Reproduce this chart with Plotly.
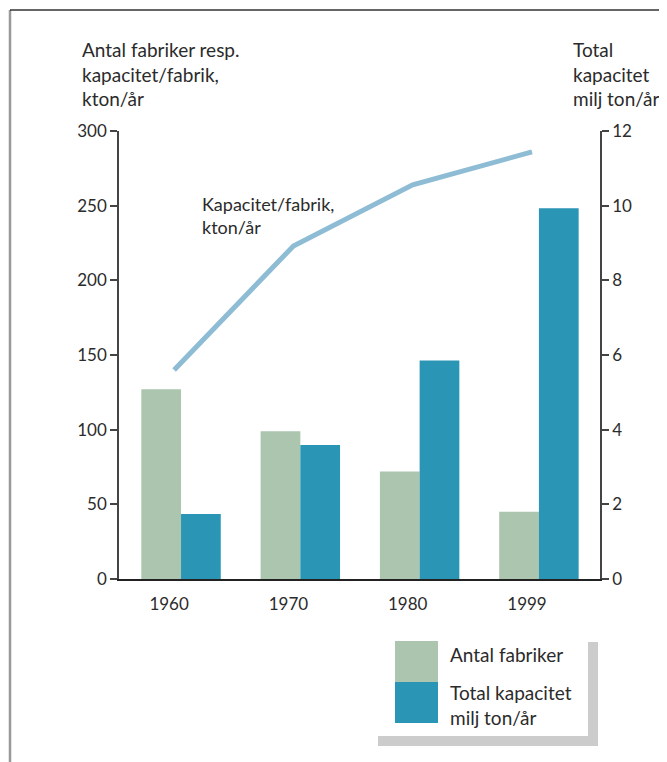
import plotly.graph_objects as go

years = ["1960", "1970", "1980", "1999"]
antal_fabriker = [127, 99, 72, 45]
total_kapacitet = [1.74, 3.59, 5.85, 9.93]
kapacitet_per_fabrik = [140, 223, 264, 286]
left_ticks = [0, 50, 100, 150, 200, 250, 300]
right_ticks = [0, 2, 4, 6, 8, 10, 12]

GREEN = "#abc5ae"
BLUE = "#2a95b5"
LINE = "#8dbcd4"
TEXT = "#2b2b2b"
FONT = "Lato"

OFF = 8  # page body margin
W, H = 667 - OFF, 762 - OFF
# plot area in page pixels: x 119..600, y 131..579
PL, PR, PT, PB = 119, 600, 131, 579
L = PL - OFF
T = PT - OFF
PW, PH = PR - PL, PB - PT
R = W - L - PW
B = H - T - PH


def px(x):
    return (x - PL) / PW


def py(y):
    return (PB - y) / PH


xpos = list(range(len(years)))
BW = 0.333
LINE_SHIFT = 0.058
LABEL_SHIFT = 0.1

fig = go.Figure()
fig.add_trace(go.Bar(x=xpos, y=antal_fabriker, width=BW, offset=-BW,
                     marker=dict(color=GREEN, line=dict(width=0)),
                     name="Antal fabriker", yaxis="y"))
fig.add_trace(go.Bar(x=xpos, y=total_kapacitet, width=BW, offset=0,
                     marker=dict(color=BLUE, line=dict(width=0)),
                     name="Total kapacitet", yaxis="y2"))
fig.add_trace(go.Scatter(x=[i - LINE_SHIFT for i in xpos], y=kapacitet_per_fabrik,
                         mode="lines", line=dict(color=LINE, width=5),
                         yaxis="y", name="Kapacitet/fabrik"))

axis_common = dict(showgrid=False, zeroline=False, showline=True,
                   linecolor="#444", linewidth=1.5, ticks="outside",
                   ticklen=7, tickwidth=1.5, tickcolor="#444",
                   tickfont=dict(family=FONT, size=17, color=TEXT))

fig.update_layout(
    width=W, height=H,
    margin=dict(l=L, r=R, t=T, b=B, pad=0),
    paper_bgcolor="white", plot_bgcolor="white",
    showlegend=False,
    barmode="overlay",
    font=dict(family=FONT, color=TEXT),
    xaxis=dict(range=[-0.52, 3.512],
               tickvals=[i - LABEL_SHIFT for i in xpos], ticktext=years,
               showgrid=False, zeroline=False, showline=True,
               linecolor="#222", linewidth=1.5, ticks="",
               ticklabelstandoff=9,
               tickfont=dict(family=FONT, size=17, color=TEXT)),
    yaxis=dict(range=[0, 300], tickvals=left_ticks, **axis_common),
    yaxis2=dict(range=[0, 12], tickvals=right_ticks, overlaying="y",
                side="right", **axis_common),
)

# frame lines
fig.add_shape(type="line", xref="paper", yref="paper",
              x0=px(10), x1=px(10), y0=py(10), y1=py(780),
              line=dict(color="#999", width=2.5))
fig.add_shape(type="line", xref="paper", yref="paper",
              x0=px(10), x1=px(700), y0=py(10), y1=py(10),
              line=dict(color="#333", width=1.5))

# axis titles
fig.add_annotation(xref="paper", yref="paper", x=px(80), y=py(36),
                   xanchor="left", yanchor="top", align="left", showarrow=False,
                   text="Antal fabriker resp.<br>kapacitet/fabrik,<br>kton/år",
                   font=dict(family=FONT, size=19, color=TEXT))
fig.add_annotation(xref="paper", yref="paper", x=px(571), y=py(36),
                   xanchor="left", yanchor="top", align="left", showarrow=False,
                   text="Total<br>kapacitet<br>milj ton/år",
                   font=dict(family=FONT, size=19, color=TEXT))
fig.add_annotation(xref="paper", yref="paper", x=px(200), y=py(191),
                   xanchor="left", yanchor="top", align="left", showarrow=False,
                   text="Kapacitet/fabrik,<br>kton/år",
                   font=dict(family=FONT, size=18, color=TEXT))

# legend box with shadow
fig.add_shape(type="rect", xref="paper", yref="paper",
              x0=px(378), x1=px(598), y0=py(746), y1=py(642),
              fillcolor="#cccccc", line=dict(width=0), layer="below")
fig.add_shape(type="rect", xref="paper", yref="paper",
              x0=px(370), x1=px(588), y0=py(736), y1=py(630),
              fillcolor="white", line=dict(width=0), layer="below")
fig.add_shape(type="rect", xref="paper", yref="paper",
              x0=px(395), x1=px(438), y0=py(682), y1=py(641),
              fillcolor=GREEN, line=dict(width=0))
fig.add_shape(type="rect", xref="paper", yref="paper",
              x0=px(395), x1=px(438), y0=py(723), y1=py(682),
              fillcolor=BLUE, line=dict(width=0))
fig.add_annotation(xref="paper", yref="paper", x=px(448), y=py(641),
                   xanchor="left", yanchor="top", align="left", showarrow=False,
                   text="Antal fabriker",
                   font=dict(family=FONT, size=19, color=TEXT))
fig.add_annotation(xref="paper", yref="paper", x=px(448), y=py(679),
                   xanchor="left", yanchor="top", align="left", showarrow=False,
                   text="Total kapacitet<br>milj ton/år",
                   font=dict(family=FONT, size=19, color=TEXT))

fig.write_html("out.html")
